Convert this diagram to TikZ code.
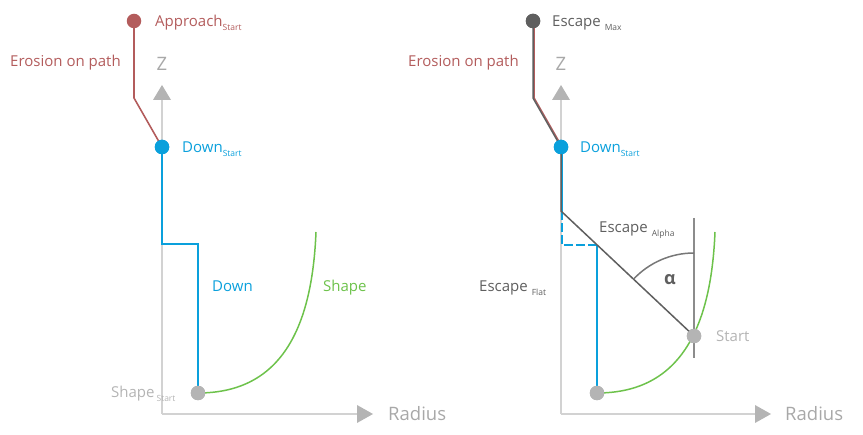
\documentclass[tikz,border=0pt]{standalone}
\usepackage{fontspec}
\setmainfont{Open Sans}
\definecolor{cred}{HTML}{B35C5C}
\definecolor{cblue}{HTML}{0AA0DC}
\definecolor{cgreen}{HTML}{6DC24B}
\definecolor{cdark}{HTML}{5F5F5F}
\definecolor{cmid}{HTML}{8C8C8C}
\definecolor{cdot}{HTML}{B4B4B4}
\definecolor{caxis}{HTML}{D2D2D2}
\definecolor{ctext}{HTML}{A8A8A8}
\newcommand\lsub[1]{\raisebox{-4pt}{\fontsize{8.5}{8.5}\selectfont #1}}
\begin{document}
\begin{tikzpicture}[x=1pt,y=-1pt,
  lab/.style={anchor=base west, inner sep=0pt, font=\fontsize{15}{15}\selectfont},
  big/.style={anchor=base west, inner sep=0pt, font=\fontsize{18.5}{18.5}\selectfont, text=ctext},
  dot/.style={circle, inner sep=0pt, minimum size=14.5pt, fill=#1},
  axisline/.style={draw=caxis, line width=1.4pt},
  axishead/.style={fill=cdot},
  bluepath/.style={draw=cblue, line width=1.6pt},
  redpath/.style={draw=cred, line width=1.6pt},
  darkpath/.style={draw=cdark, line width=1.5pt},
  shapecurve/.style={draw=cgreen, line width=1.5pt}]
\useasboundingbox (0,0) rectangle (863,435);

% ---------------- left diagram ----------------
\coordinate (lO) at (162,414);
\coordinate (lZ) at (162,100);
\coordinate (lR) at (357,414);
\draw[axisline] (lO) -- (lZ);
\draw[axisline] (lO) -- (lR);
\fill[axishead] (153,100) -- (162,85) -- (171,100) -- cycle;
\fill[axishead] (357,405) -- (373,414) -- (357,423) -- cycle;

\coordinate (lbend) at (134,98);
\coordinate (lc1) at (162,244);
\coordinate (lc2) at (198,244);
\node[dot=cred] (lapp) at (134,21) {};
\node[dot=cblue] (ldown) at (162,147) {};
\node[dot=cdot] (lshape) at (198,393) {};
\draw[redpath] (lapp.center) -- (lbend) -- (ldown.center);
\draw[bluepath] (ldown.center) -- (lc1) -- (lc2) -- (lshape.center);
\draw[shapecurve] (lshape.center) .. controls (280,393) and (312,330) .. (316,232);
\node[dot=cblue] at (ldown) {};
\node[dot=cdot] at (lshape) {};

\node[lab, text=cred] (tapp) at (155,27) {Approach\lsub{Start}};
\node[lab, text=cred] (terl) at (10,67) {Erosion on path};
\node[lab, text=cblue] (tdownl) at (182,153) {Down\lsub{Start}};
\node[lab, text=cblue] (tdown) at (212,292) {Down};
\node[lab, text=cgreen] (tshape) at (323,292) {Shape};
\node[lab, text=cdot] (tss) at (111,398) {Shape\hspace{2pt}\lsub{Start}};
\node[big, anchor=base] (tzl) at (162,71) {Z};
\node[big] (trl) at (388,421) {Radius};

% ---------------- right diagram ----------------
\coordinate (rO) at (561,414);
\coordinate (rZ) at (561,100);
\coordinate (rR) at (755,414);
\draw[axisline] (rO) -- (rZ);
\draw[axisline] (rO) -- (rR);
\fill[axishead] (552,100) -- (561,85) -- (570,100) -- cycle;
\fill[axishead] (755,405) -- (771,414) -- (755,423) -- cycle;

\coordinate (rbend) at (533,98);
\coordinate (rflat) at (561,211);
\coordinate (rc1) at (561,245);
\coordinate (rc2) at (597,245);
\coordinate (vtop) at (694,218);
\coordinate (vbot) at (694,358);
\node[dot=cdark] (resc) at (533,21) {};
\node[dot=cblue] (rdown) at (561,147) {};
\node[dot=cdot] (rshape) at (597,393) {};
\node[dot=cdot] (rstart) at (694,336) {};

\draw[draw=cred, line width=1.2pt] ([xshift=1.3pt]resc.center) -- ([xshift=1.3pt]rbend) -- ([xshift=1.3pt]rdown.center);
\draw[darkpath] (resc.center) -- (rbend) -- (rdown.center);
\draw[bluepath] ([xshift=1pt]rdown.center) -- ([xshift=1pt]rflat);
\draw[bluepath, dash pattern=on 9pt off 3pt] ([xshift=1pt]rflat) -- ([xshift=1pt]rc1) -- (rc2);
\draw[bluepath] (rc2) -- (rshape.center);
\draw[darkpath] (rdown.center) -- (rflat) -- (rstart.center);
\draw[draw=cmid, line width=1.1pt] (vtop) -- (vbot);
\draw[draw=cdark!85, line width=1.5pt] (694,253) arc[start angle=-90, end angle=-136.8, radius=83];
\draw[shapecurve] (rshape.center) .. controls (679,393) and (711,330) .. (715,232);
\node[dot=cdot] at (rshape) {};
\node[dot=cdot] at (rstart) {};
\node[dot=cblue] at (rdown) {};
\node[dot=cdark] at (resc) {};

\node[lab, text=cdark] (tesc) at (552,27) {Escape\hspace{4pt}\lsub{Max}};
\node[lab, text=cred] (terr) at (408,67) {Erosion on path};
\node[lab, text=cblue] (tdownr) at (580,153) {Down\lsub{Start}};
\node[lab, text=cdark] (talpha) at (599,233) {Escape\hspace{4pt}\lsub{Alpha}};
\node[lab, text=cdark] (tflat) at (479,292) {Escape\hspace{4pt}\lsub{Flat}};
\node[lab, text=cdot] (tstart) at (716,342) {Start};
\node[anchor=center, inner sep=0pt, text=cdark, font=\fontsize{18}{18}\selectfont\bfseries] (talph) at (670,280) {α};
\node[big, anchor=base] (tzr) at (561,71) {Z};
\node[big] (trr) at (785,421) {Radius};
\end{tikzpicture}
\end{document}
